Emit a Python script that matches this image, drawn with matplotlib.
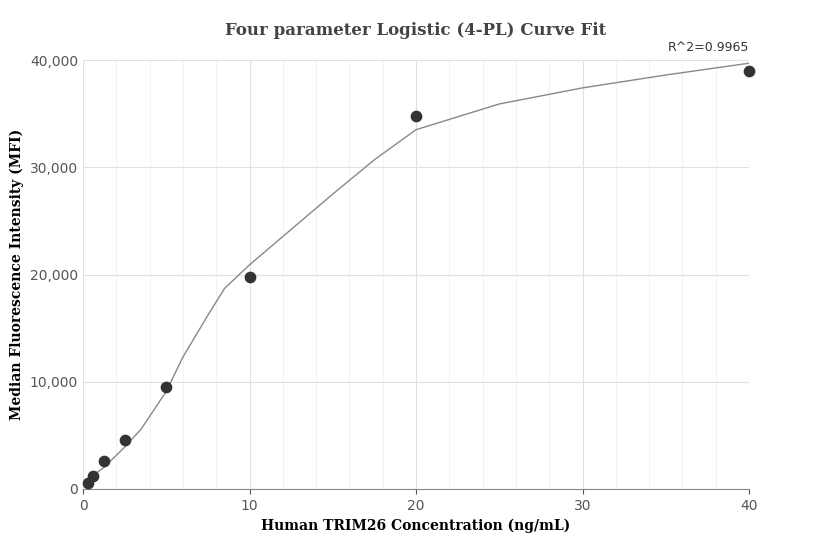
import matplotlib
matplotlib.use("Agg")
import matplotlib.pyplot as plt
from matplotlib.ticker import FuncFormatter, MultipleLocator

conc = [0.3125, 0.625, 1.25, 2.5, 5, 10, 20, 40]
mfi = [600, 1200, 2600, 4600, 9500, 19800, 34800, 39000]
curve_x = [0.3125, 0.625, 1.25, 2.5, 3.5, 5, 6, 7.5, 8.5, 10, 12.5, 15, 17.5, 20, 25, 30, 35, 40]
curve_y = [900, 1300, 2000, 3900, 5600, 9100, 12300, 16200, 18700, 20900, 24200, 27500, 30700, 33500, 35900, 37400, 38600, 39700]

fig = plt.figure(figsize=(8.32, 5.6), dpi=100)
ax = fig.add_axes([83/832, 1-489/560, 666/832, 429/560])
ax.plot(curve_x, curve_y, color="#888888", lw=1)
ax.scatter(conc, mfi, s=55, color="#333333", zorder=3, clip_on=False)
ax.set_xlim(0, 40)
ax.set_ylim(0, 40000)
ax.xaxis.set_major_locator(MultipleLocator(10))
ax.xaxis.set_minor_locator(MultipleLocator(2))
ax.yaxis.set_major_locator(MultipleLocator(10000))
ax.yaxis.set_major_formatter(FuncFormatter(lambda v, p: f"{int(v):,}"))
ax.grid(True, which="major", color="#e0e0e0", lw=0.8)
ax.grid(True, which="minor", axis="x", color="#f2f2f2", lw=0.8)
ax.set_axisbelow(True)
for s in ["top", "right", "left"]:
    ax.spines[s].set_visible(False)
ax.spines["bottom"].set_color("#888888")
ax.tick_params(which="minor", length=0)
ax.tick_params(axis="y", length=0)
ax.tick_params(colors="#555555", labelsize=10)
ax.set_xlabel("Human TRIM26 Concentration (ng/mL)", fontfamily="DejaVu Serif", fontweight="bold", fontsize=10)
ax.set_ylabel("Median Fluorescence Intensity (MFI)", fontfamily="DejaVu Serif", fontweight="bold", fontsize=10)
ax.set_title("Four parameter Logistic (4-PL) Curve Fit", fontfamily="DejaVu Serif", fontweight="bold", fontsize=12, color="#444444", pad=18)
ax.text(40, 40600, "R^2=0.9965", ha="right", va="bottom", fontsize=9, color="#333333")
fig.savefig("out.png")
